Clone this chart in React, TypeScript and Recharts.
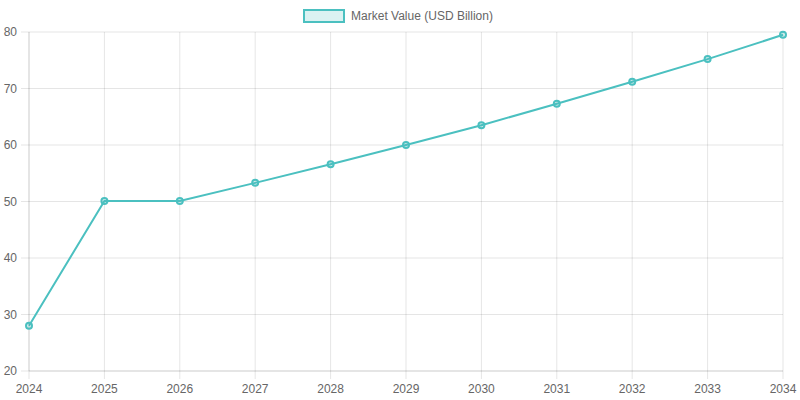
import { LineChart, Line, XAxis, YAxis, CartesianGrid, Legend } from "recharts"

const years = ["2024", "2025", "2026", "2027", "2028", "2029", "2030", "2031", "2032", "2033", "2034"]
const marketValue = [28.0, 50.1, 50.1, 53.3, 56.6, 60.0, 63.5, 67.3, 71.2, 75.2, 79.5]
const yTicks = [20, 30, 40, 50, 60, 70, 80]

const data = years.map((year, i) => ({ year, value: marketValue[i] }))

const teal = "rgb(75,192,192)"
const tealFill = "rgba(75,192,192,0.2)"
const gridColor = "rgba(0,0,0,0.1)"
const font = "'Liberation Sans', Arial, Helvetica, sans-serif"

function LegendBox() {
  return (
    <div style={{ display: "flex", justifyContent: "center", alignItems: "center", fontFamily: font, fontSize: 12, color: "#666", height: 14, marginLeft: -4 }}>
      <span
        style={{
          display: "inline-block",
          width: 38,
          height: 10,
          background: tealFill,
          border: `2px solid ${teal}`,
          marginRight: 6,
        }}
      />
      <span>Market Value (USD Billion)</span>
    </div>
  )
}

export default function App() {
  return (
    <div style={{ position: "absolute", left: 0, top: 0, width: 800, height: 400, background: "#fff" }}>
      <LineChart width={800} height={400} data={data} margin={{ top: 18, right: 17, bottom: 0, left: 0 }}>
        <CartesianGrid stroke={gridColor} />
        <XAxis
          dataKey="year"
          height={29}
          tickSize={8}
          tickMargin={5}
          interval={0}
          stroke={gridColor}
          tick={{ fill: "#666", fontSize: 12, fontFamily: font }}
        />
        <YAxis
          width={29}
          domain={[20, 80]}
          ticks={yTicks}
          tickSize={8}
          tickMargin={4}
          stroke={gridColor}
          tick={{ fill: "#666", fontSize: 12, fontFamily: font }}
        />
        <Legend verticalAlign="top" height={14} content={() => <LegendBox />} wrapperStyle={{ top: 9, left: 0, width: 800 }} />
        <Line
          type="linear"
          dataKey="value"
          name="Market Value (USD Billion)"
          stroke={teal}
          strokeWidth={2}
          dot={{ r: 3, fill: tealFill, stroke: teal, strokeWidth: 2 }}
          isAnimationActive={false}
        />
      </LineChart>
    </div>
  )
}
